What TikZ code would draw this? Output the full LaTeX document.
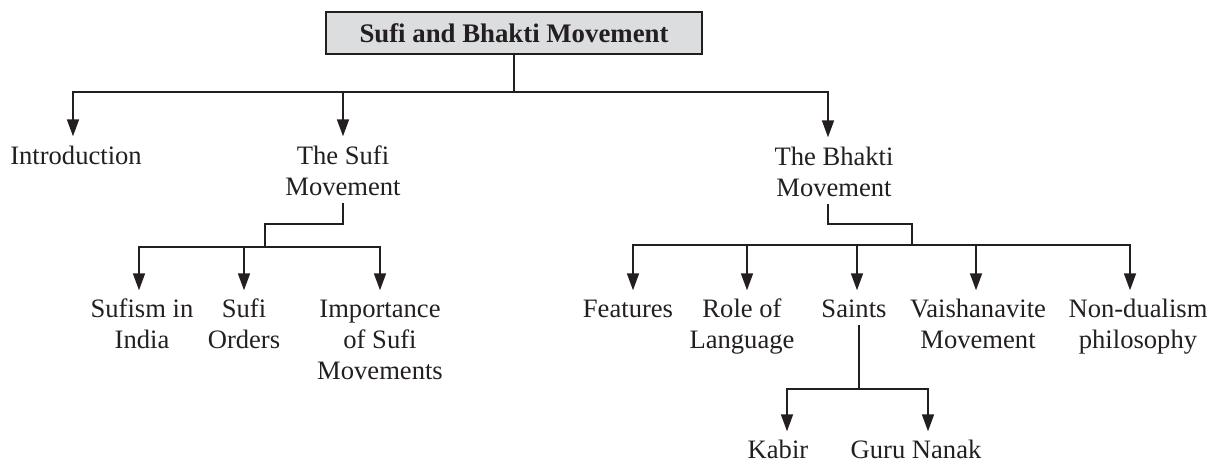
\documentclass[tikz,border=0pt]{standalone}
\usepackage{fontspec}
\setmainfont{Liberation Serif}
\usetikzlibrary{arrows.meta}
\definecolor{ink}{HTML}{231F20}
\definecolor{boxfill}{HTML}{DCDDDE}
% stacked, centred lines whose baseline is the first line's
\newcommand\mlines[1]{\begin{tabular}[t]{@{}c@{}}#1\end{tabular}}
\begin{document}
\begin{tikzpicture}[x=1pt,y=-1pt,
  every node/.style={inner sep=0pt, outer sep=0pt, text=ink},
  lbl/.style={anchor=base, font=\fontsize{26.6}{31}\selectfont},
  titlebox/.style={draw=ink, fill=boxfill, line width=1.3pt,
    minimum width=376pt, minimum height=42pt,
    font=\fontsize{26.8}{31}\selectfont\bfseries},
  wire/.style={draw=ink, line width=1.7pt, line cap=rect},
  arr/.style={wire, -{Triangle[length=17pt,width=12pt]}, shorten >=5pt},
]
\useasboundingbox (0,0) rectangle (1213,464);

% root
\node[titlebox] (root) at (514,33) {Sufi and Bhakti Movement};

% first level
\node[lbl] (intro)  at (76,164)  {\mlines{Introduction}};
\node[lbl] (sufi)   at (343,164) {\mlines{The Sufi\\Movement}};
\node[lbl] (bhakti) at (834,165) {\mlines{The Bhakti\\Movement}};

% Sufi branch
\node[lbl] (sufism)     at (142,317) {\mlines{Sufism in\\India}};
\node[lbl] (orders)     at (244,317) {\mlines{Sufi\\Orders}};
\node[lbl] (importance) at (380,317) {\mlines{Importance\\of Sufi\\Movements}};

% Bhakti branch
\node[lbl] (features) at (628,317)  {\mlines{Features}};
\node[lbl] (role)     at (742,317)  {\mlines{Role of\\Language}};
\node[lbl] (saints)   at (854,317)  {\mlines{Saints}};
\node[lbl] (vaish)    at (978,317)  {\mlines{Vaishanavite\\Movement}};
\node[lbl] (nondual)  at (1138,317) {\mlines{Non-dualism\\philosophy}};

% saints
\node[lbl] (kabir) at (778,458) {\mlines{Kabir}};
\node[lbl] (nanak) at (916,458) {\mlines{Guru Nanak}};

% top bus
\coordinate (hub)     at (514,92);
\coordinate (tIntro)  at (73,92);
\coordinate (tSufi)   at (343,92);
\coordinate (tBhakti) at (828,92);
\draw[wire] (root.south) -- (hub);
\draw[wire] (tIntro) -- (tBhakti);
\draw[arr, shorten >=6pt] (tIntro)  -- (tIntro |- intro.north);
\draw[arr, shorten >=6pt] (tSufi)   -- (tSufi |- sufi.north);
\draw[arr, shorten >=6pt] (tBhakti) -- (tBhakti |- bhakti.north);

% Sufi bus
\coordinate (sElbow) at (265,224);
\coordinate (sHub)   at (265,247);
\coordinate (sA) at (139,247);
\coordinate (sB) at (244,247);
\coordinate (sC) at (380,247);
\draw[wire] (sufi.south) |- (sElbow) -- (sHub);
\draw[wire] (sA) -- (sC);
\draw[arr] (sA) -- (sA |- sufism.north);
\draw[arr] (sB) -- (sB |- orders.north);
\draw[arr] (sC) -- (sC |- importance.north);

% Bhakti bus
\coordinate (bElbow) at (912,224);
\coordinate (bHub)   at (912,245);
\coordinate (bA) at (633,245);
\coordinate (bB) at (747,245);
\coordinate (bC) at (857,245);
\coordinate (bD) at (976,245);
\coordinate (bE) at (1130,245);
\draw[wire] (tBhakti |- bhakti.south) |- (bElbow) -- (bHub);
\draw[wire] (bA) -- (bE);
\draw[arr] (bA) -- (bA |- features.north);
\draw[arr] (bB) -- (bB |- role.north);
\draw[arr] (bC) -- (bC |- saints.north);
\draw[arr] (bD) -- (bD |- vaish.north);
\draw[arr] (bE) -- (bE |- nondual.north);

% Saints bus
\coordinate (kHub) at (859,389);
\coordinate (kA) at (787,389);
\coordinate (kB) at (928,389);
\draw[wire] (kHub |- saints.south) -- (kHub);
\draw[wire] (kA) -- (kB);
\draw[arr] (kA) -- (kA |- kabir.north);
\draw[arr] (kB) -- (kB |- nanak.north);
\end{tikzpicture}
\end{document}
